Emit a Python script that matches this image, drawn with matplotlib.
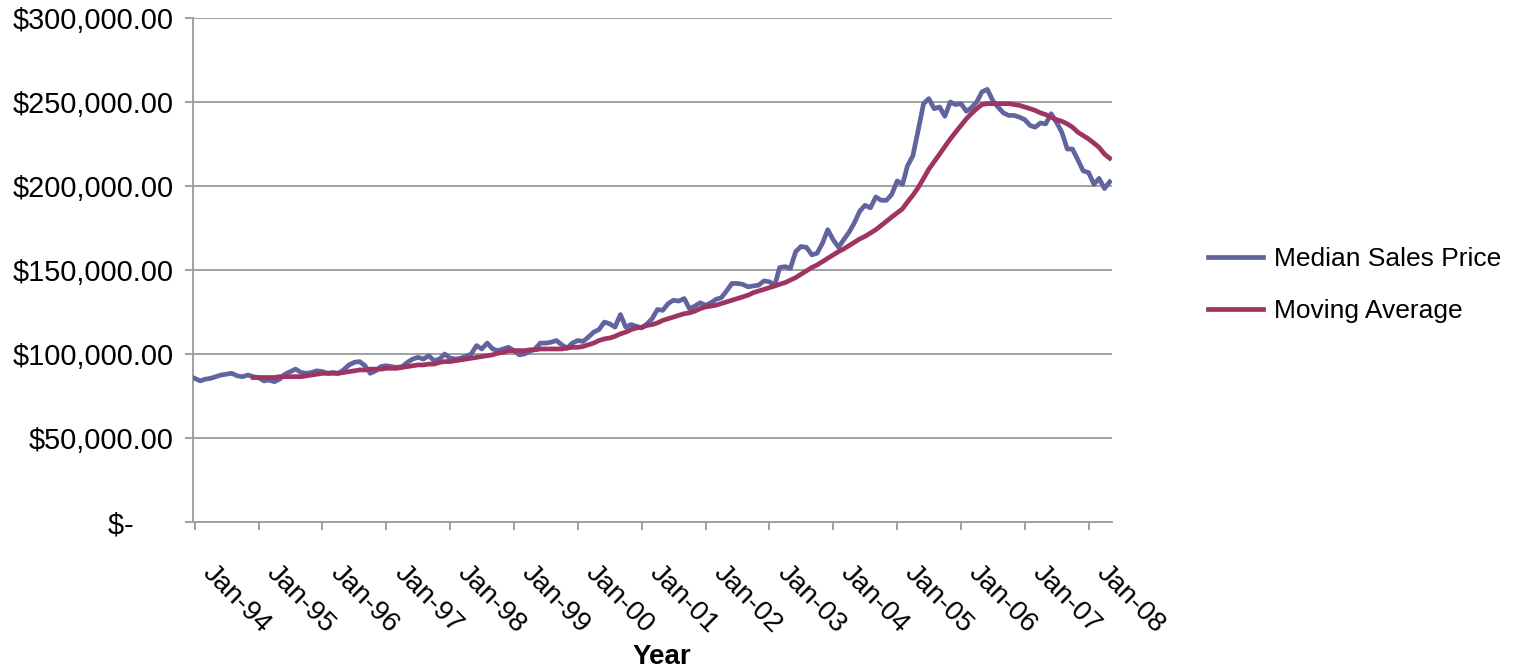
import numpy as np
import pandas as pd
import matplotlib
matplotlib.use("Agg")
import matplotlib.pyplot as plt
import matplotlib.dates as mdates
from matplotlib.ticker import FuncFormatter
from matplotlib.transforms import ScaledTranslation

# monthly median sales price, Jan-94 .. May-08 (thousands of dollars)
median_price = [
    85.5, 84, 85, 85.5, 86.5, 87.5, 88, 88.5, 87, 86.5, 87.5, 86.5,       # 1994
    86, 84, 84.5, 83.5, 85, 88, 89.5, 91, 89, 88.5, 89, 90,               # 1995
    89.5, 88.5, 89, 88.5, 90.5, 93.5, 95, 95.5, 93, 88.5, 90, 92.5,       # 1996
    93, 92.5, 92, 92.5, 95, 97, 98, 97, 99, 96, 97, 100,                  # 1997
    97.5, 97, 97.5, 98.5, 100, 105, 103, 106.5, 103, 102, 103, 104,       # 1998
    102, 99.5, 100, 101.5, 103, 106.5, 106.5, 107, 108, 105.5, 103.5, 106.5,  # 1999
    108, 107.5, 110, 113, 114.5, 119, 118, 116, 123.5, 116, 117.5, 116.5,     # 2000
    115.5, 118, 121, 126.5, 126, 130, 132, 131.5, 133, 127, 128.5, 130.5,     # 2001
    129, 130.5, 132.5, 133.5, 137.5, 142, 142, 141.5, 140, 140.5, 141, 143.5, # 2002
    143, 141, 151.5, 152, 151, 161, 164, 163.5, 159, 160, 166, 174,           # 2003
    168, 163.5, 168, 172.5, 178, 185, 188.5, 187, 193.5, 191.5, 191.5, 195,   # 2004
    203, 201, 212, 218, 233, 249, 252, 246, 247, 241.5, 250, 248.5,           # 2005
    249, 244.5, 246.5, 250, 256, 257.5, 251, 247, 243.5, 242, 242, 241,       # 2006
    239.5, 236, 235, 237.5, 237, 243, 238, 232, 222, 222, 215.5, 209,         # 2007
    208, 201, 204.5, 198.5, 202.5,                                            # 2008
]

# 12 month moving average, Dec-94 .. May-08 (thousands of dollars)
moving_avg = [
    86,                                                                       # 1994
    86, 86, 86, 86, 86.5, 86.5, 86.5, 86.5, 86.5, 87, 87.5, 88,               # 1995
    88.5, 88.5, 88.5, 88.5, 89, 89.5, 90, 90.5, 90.5, 91, 91, 91,             # 1996
    91.5, 91.5, 91.5, 92, 92.5, 93, 93.5, 93.5, 94, 94, 95, 95.5,             # 1997
    95.5, 96, 96.5, 97, 97.5, 98, 98.5, 99, 99.5, 100.5, 101, 102,            # 1998
    102, 102, 102, 102.5, 102.5, 103, 103, 103, 103, 103, 103.5, 104,         # 1999
    104, 104.5, 105.5, 106.5, 108, 109, 109.5, 110.5, 112, 113, 114.5, 115.5, # 2000
    116, 117, 117.5, 118.5, 120, 121, 122, 123, 124, 124.5, 125.5, 127,       # 2001
    128, 128.5, 129, 130, 131, 132, 133, 134, 135, 136.5, 137.5, 138.5,       # 2002
    139.5, 140.5, 141.5, 142.5, 144, 145.5, 147.5, 149.5, 151.5, 153, 155, 157,  # 2003
    159, 161, 162.5, 164.5, 166.5, 168.5, 170, 172, 174, 176.5, 179, 181.5,   # 2004
    184, 186.5, 190.5, 194.5, 199, 204.5, 210, 214.5, 219, 223.5, 228, 232,   # 2005
    236, 240, 243, 246, 248.5, 249, 249, 249, 249, 249, 248.5, 248,           # 2006
    247, 246, 245, 243.5, 242.5, 241, 239.5, 238.5, 237, 235, 232, 230,       # 2007
    228, 225.5, 223, 219, 216.5,                                              # 2008
]

y_ticks = [0, 50000, 100000, 150000, 200000, 250000, 300000]
series_names = ["Median Sales Price", "Moving Average"]

months = pd.date_range("1994-01-01", periods=len(median_price), freq="MS")
ma_months = pd.date_range("1994-12-01", periods=len(moving_avg), freq="MS")
median_vals = np.array(median_price) * 1000
ma_vals = np.array(moving_avg) * 1000

plt.rcParams['font.family'] = ['Liberation Sans', 'DejaVu Sans']

fig = plt.figure(figsize=(15.14, 6.72), dpi=100)
ax = fig.add_axes([193 / 1514, 1 - 522 / 672, (1112 - 193) / 1514, (522 - 18) / 672])

ax.plot(months, median_vals, color="#6264a0", lw=3.4, label=series_names[0],
        solid_joinstyle="round", zorder=3)
ax.plot(ma_months, ma_vals, color="#9e3462", lw=3.4, label=series_names[1],
        solid_joinstyle="round", zorder=4)

ax.set_ylim(0, 300000)
ax.set_yticks(y_ticks)


def money(v, pos):
    # accounting style: zero shows as a dash with some room on the right
    if v == 0:
        return "$-\u2007\u2007 "
    return "${:,.2f}".format(v)


ax.yaxis.set_major_formatter(FuncFormatter(money))
ax.grid(axis="y", color="#a0a0a0", lw=1.4, zorder=0)

ax.set_xlim(pd.Timestamp("1993-12-22"), pd.Timestamp("2008-05-14"))
ax.xaxis.set_major_locator(mdates.YearLocator())
ax.xaxis.set_major_formatter(mdates.DateFormatter("%b-%y"))

for s in ["top", "right"]:
    ax.spines[s].set_visible(False)
for s in ["left", "bottom"]:
    ax.spines[s].set_color("#a0a0a0")
    ax.spines[s].set_linewidth(1.4)

ax.tick_params(axis="y", length=6, width=1.4, color="#a0a0a0", pad=8, labelsize=20.8)
ax.tick_params(axis="x", length=6, width=1.4, color="#a0a0a0", pad=4, labelsize=20)

for lab in ax.get_xticklabels():
    lab.set_rotation(-45)
    lab.set_ha("left")
    lab.set_va("top")
    lab.set_rotation_mode("anchor")
    lab.set_transform(lab.get_transform() + ScaledTranslation(0.21, -0.24, fig.dpi_scale_trans))

fig.text(662 / 1514, 1 - 657 / 672, "Year", ha="center", va="center",
         fontsize=20, fontweight="bold")

fig.legend(loc="center left", bbox_to_anchor=(1197 / 1514, 1 - 285 / 672),
           frameon=False, fontsize=19, handlelength=2.1, handletextpad=0.4,
           labelspacing=1.05, borderaxespad=0)

fig.savefig("out.png", dpi=100)
